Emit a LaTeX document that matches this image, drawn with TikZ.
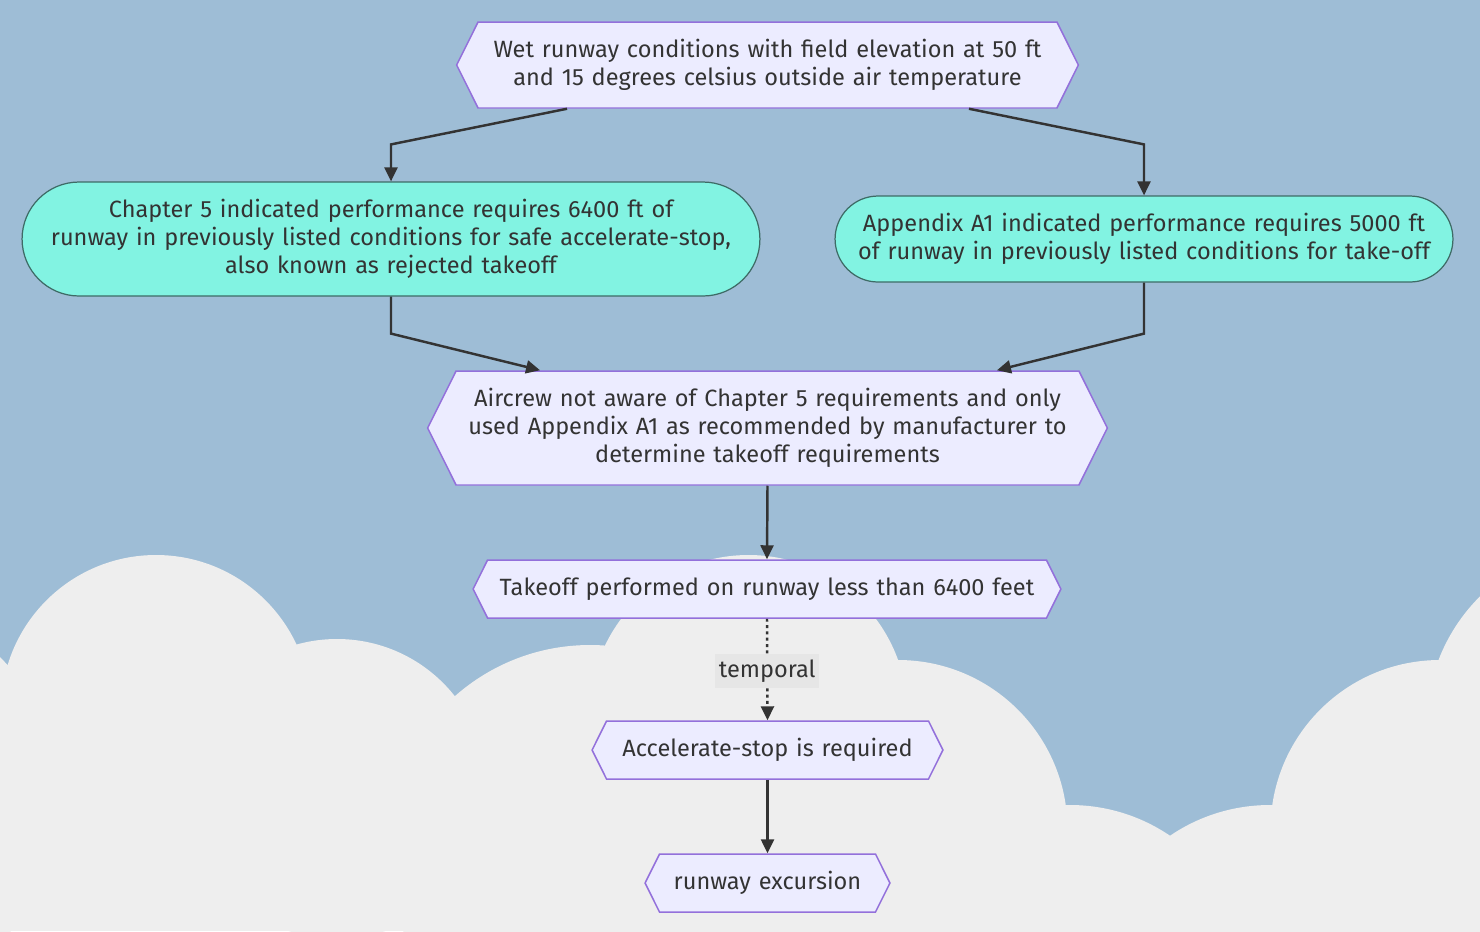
\documentclass[tikz,border=0pt]{standalone}
\usepackage{fontspec}
\setmainfont{Fira Sans}
\usetikzlibrary{arrows.meta,shapes.symbols}
\definecolor{ciel}{HTML}{9EBDD6}
\definecolor{nuage}{HTML}{EEEEEE}
\definecolor{hexfond}{HTML}{ECECFF}
\definecolor{hextrait}{HTML}{9370DB}
\definecolor{vertfond}{HTML}{82F3E2}
\definecolor{verttrait}{HTML}{3E6B66}
\definecolor{texte}{HTML}{333333}
\definecolor{etiquette}{HTML}{E6E6E6}

\begin{document}
\begin{tikzpicture}[x=0.02cm, y=-0.02cm,
  every node/.style={text=texte, font=\fontsize{13.4}{15.9}\selectfont, align=center, inner sep=0pt},
  hexbox/.style={signal, signal to=west and east, signal pointer angle=127, draw=hextrait, fill=hexfond, line width=0.85pt},
  stadebox/.style={rectangle, draw=verttrait, fill=vertfond, line width=0.7pt},
  fleche/.style={draw=texte, line width=1.4pt, -{Triangle[length=0.28cm,width=0.26cm]}},
  etiq/.style={fill=etiquette, inner xsep=2pt, inner ysep=3pt, yshift=-0.03cm}]
% dessiner le ciel
  \useasboundingbox (0,0) rectangle (1480,931);
  \fill[ciel] (0,0) rectangle (1480,931);

  % dessiner les nuages
  \begin{scope}
    \clip (0,0) rectangle (1480,931);
    \foreach \cx/\cy/\r in {-140/800/200, 156/710/155, 337/789/150, 590/849/204, 748.5/714/159,
                            898/829.5/169.5, 1070/983/178, 1270/983/178, 1440/829.5/169.5, 1608/725/181.5}
      \fill[nuage] (\cx,\cy) circle (\r);
    \fill[nuage] (0,700) rectangle (1000,931);
    \fill[nuage] (0,850) rectangle (1480,931);
  \end{scope}

  % dessiner les noeuds
  \node[hexbox, text width=11.58cm, minimum height=1.72cm] (wet) at (767.5,65)
    {Wet runway conditions with field elevation at 50 ft\\and 15 degrees celsius outside air temperature};
  \node[stadebox, text width=14cm, minimum width=14.76cm, minimum height=2.28cm, rounded corners=1.14cm] (ch5) at (391,239)
    {Chapter 5 indicated performance requires 6400 ft of\\runway in previously listed conditions for safe accelerate-stop,\\also known as rejected takeoff};
  \node[stadebox, text width=11.6cm, minimum width=12.36cm, minimum height=1.72cm, rounded corners=0.86cm] (app) at (1144,239)
    {Appendix A1 indicated performance requires 5000 ft\\of runway in previously listed conditions for take-off};
  \node[hexbox, text width=12.46cm, minimum height=2.28cm] (crew) at (767.5,428)
    {Aircrew not aware of Chapter 5 requirements and only\\used Appendix A1 as recommended by manufacturer to\\determine takeoff requirements};
  \node[hexbox, text width=11.18cm, minimum height=1.16cm] (takeoff) at (767,589)
    {Takeoff performed on runway less than 6400 feet};
  \node[hexbox, text width=6.44cm, minimum height=1.16cm] (accel) at (767.5,750)
    {Accelerate-stop is required};
  \node[hexbox, text width=4.32cm, minimum height=1.16cm] (excursion) at (767.5,883)
    {runway excursion};

  % dessiner les flèches
  \draw[fleche] ([xshift=-4.01cm]wet.south) -- ([yshift=0.74cm]ch5.north) -- (ch5.north);
  \draw[fleche] ([xshift=4.03cm]wet.south) -- ([yshift=1.02cm]app.north) -- (app.north);
  \draw[fleche] (ch5.south) -- ([yshift=-0.74cm]ch5.south) -- ([xshift=-4.55cm]crew.north);
  \draw[fleche] (app.south) -- ([yshift=-1.02cm]app.south) -- ([xshift=4.59cm]crew.north);
  \draw[fleche] (crew.south) -- (takeoff.north);
  \draw[fleche, dash pattern=on 1.7pt off 1.9pt] (takeoff.south) -- node[etiq]{temporal} (accel.north);
  \draw[fleche] (accel.south) -- (excursion.north);
\end{tikzpicture}
\end{document}
